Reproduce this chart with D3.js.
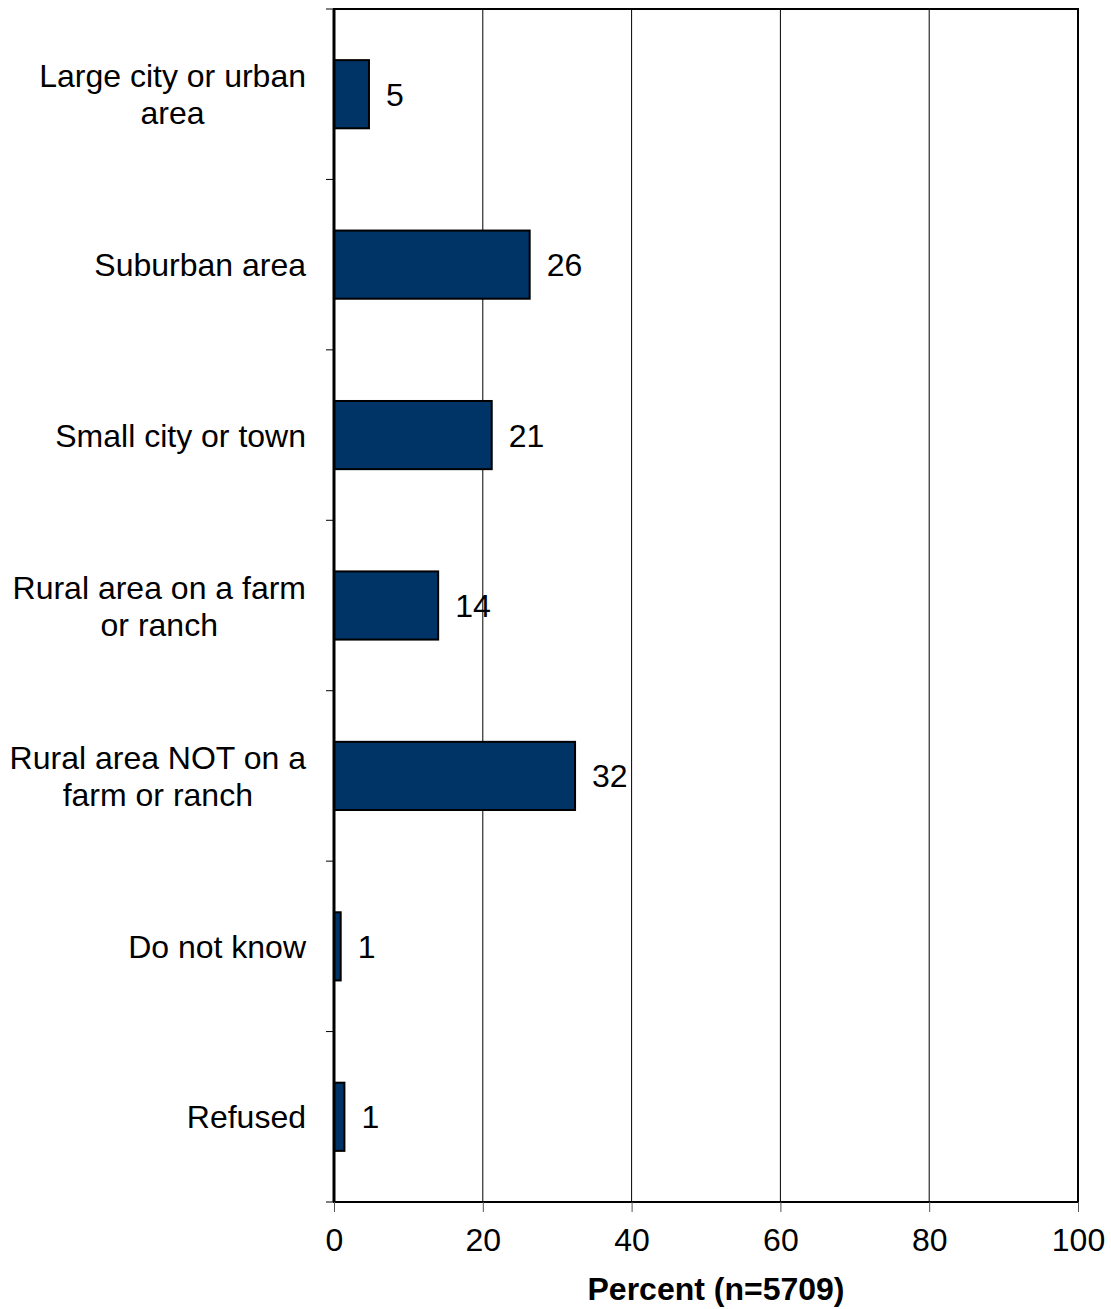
<!DOCTYPE html>
<html>
<head>
<meta charset="utf-8">
<script src="https://cdn.jsdelivr.net/npm/d3@7"></script>
<style>
  body { margin: 0; background: #fff; }
  text { font-family: "Liberation Sans", Arial, sans-serif; }
</style>
</head>
<body>
<svg id="chart" width="1111" height="1309"></svg>
<script>
const categories = [
  ["Large city or urban", "area"],
  ["Suburban area"],
  ["Small city or town"],
  ["Rural area on a farm", "or ranch"],
  ["Rural area NOT on a", "farm or ranch"],
  ["Do not know"],
  ["Refused"]
];
const values = [4.7, 26.3, 21.2, 14.0, 32.4, 0.9, 1.4];
const valueLabels = ["5", "26", "21", "14", "32", "1", "1"];
const xTicks = [0, 20, 40, 60, 80, 100];
const axisTitle = "Percent (n=5709)";

(function () {
const svg = d3.select("#chart");
const pLeft = 334, pRight = 1078, pTop = 9, pBottom = 1202;
const fontSize = 32;

const x = d3.scaleLinear().domain([0, 100]).range([pLeft, pRight]);
const y = d3.scaleBand().domain(d3.range(categories.length)).range([pTop, pBottom]).paddingInner(0).paddingOuter(0);
const barFrac = 0.4;

// value labels (under gridlines)
svg.append("g").selectAll("text").data(values).join("text")
  .attr("x", d => x(d) + 17)
  .attr("y", (d, i) => y(i) + y.bandwidth() / 2 + 11.5)
  .attr("font-size", fontSize)
  .attr("fill", "#000")
  .text((d, i) => valueLabels[i]);

// gridlines
svg.append("g").selectAll("line").data(xTicks.filter(t => t > 0 && t < 100)).join("line")
  .attr("x1", d => x(d)).attr("x2", d => x(d))
  .attr("y1", pTop).attr("y2", pBottom)
  .attr("stroke", "#000").attr("stroke-width", 1);

// bars
svg.append("g").selectAll("rect").data(values).join("rect")
  .attr("x", x(0))
  .attr("y", (d, i) => y(i) + y.bandwidth() * (1 - barFrac) / 2)
  .attr("width", d => x(d) - x(0))
  .attr("height", y.bandwidth() * barFrac)
  .attr("fill", "#003366")
  .attr("stroke", "#000")
  .attr("stroke-width", 2);

// frame
svg.append("rect")
  .attr("x", pLeft).attr("y", pTop)
  .attr("width", pRight - pLeft).attr("height", pBottom - pTop)
  .attr("fill", "none").attr("stroke", "#000").attr("stroke-width", 2);

// left axis line thicker
svg.append("line").attr("x1", pLeft).attr("x2", pLeft).attr("y1", pTop).attr("y2", pBottom)
  .attr("stroke", "#000").attr("stroke-width", 3);

// y ticks at band boundaries
const yBounds = d3.range(categories.length + 1).map(i => pTop + i * y.bandwidth());
svg.append("g").selectAll("line").data(yBounds).join("line")
  .attr("x1", pLeft - 8).attr("x2", pLeft)
  .attr("y1", d => d).attr("y2", d => d)
  .attr("stroke", "#000").attr("stroke-width", 1);

// x axis ticks and labels
const xAxis = d3.axisBottom(x).tickValues(xTicks).tickSize(10).tickPadding(14).tickFormat(d3.format("d"));
const gx = svg.append("g").attr("transform", `translate(0,${pBottom})`).call(xAxis);
gx.select(".domain").remove();
gx.selectAll(".tick line").attr("stroke", "#555").attr("stroke-width", 1);
gx.selectAll(".tick text")
  .attr("font-size", fontSize)
  .attr("font-family", '"Liberation Sans", Arial, sans-serif')
  .attr("fill", "#000")
  .attr("dy", null)
  .attr("y", 49);

// category labels
const labelRight = 306;
const lineH = 37;
categories.forEach((lines, i) => {
  const g = svg.append("g");
  const cy = y(i) + y.bandwidth() / 2;
  const n = lines.length;
  const texts = lines.map((ln, k) => g.append("text")
    .attr("font-size", fontSize)
    .attr("fill", "#000")
    .attr("y", cy + 11.5 + (k - (n - 1) / 2) * lineH)
    .text(ln));
  const maxW = d3.max(texts, t => t.node().getComputedTextLength());
  const cx = labelRight - maxW / 2;
  texts.forEach(t => t.attr("x", cx).attr("text-anchor", "middle"));
});

// axis title
svg.append("text")
  .attr("x", 716).attr("y", 1300)
  .attr("text-anchor", "middle")
  .attr("font-size", fontSize)
  .attr("font-weight", "bold")
  .attr("fill", "#000")
  .text(axisTitle);
})();
</script>
</body>
</html>
